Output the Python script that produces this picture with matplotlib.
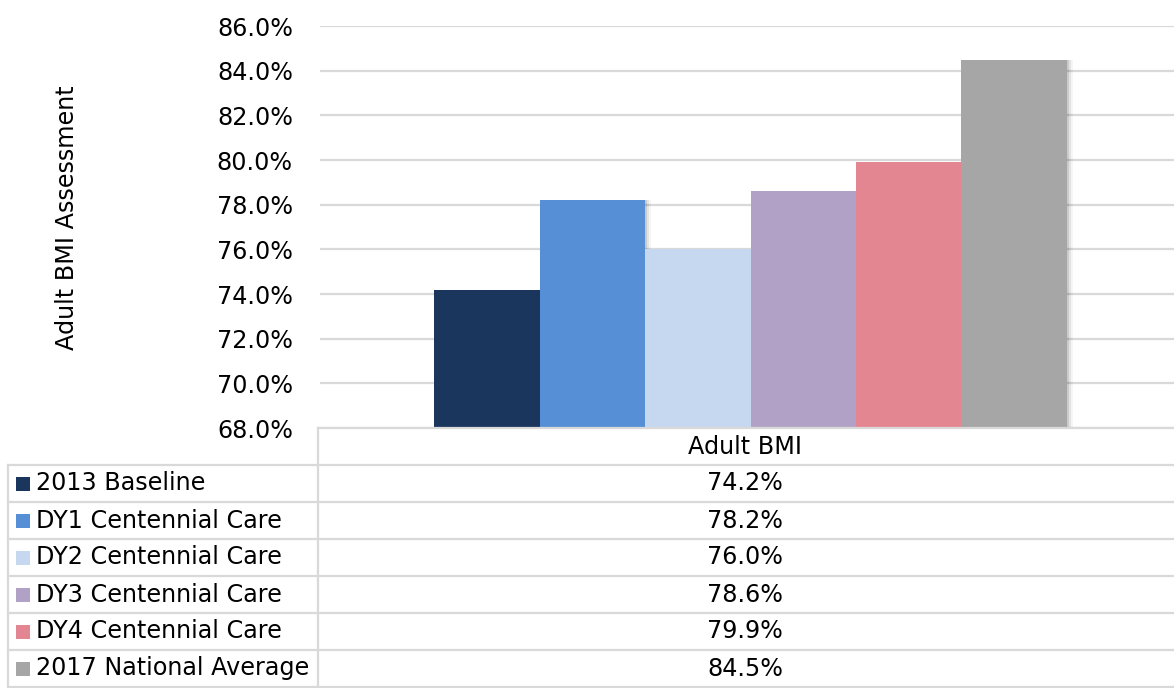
import matplotlib
matplotlib.use("Agg")
import matplotlib.pyplot as plt
from matplotlib.patches import Rectangle

# Data
category = "Adult BMI"
series = ["2013 Baseline", "DY1 Centennial Care", "DY2 Centennial Care",
          "DY3 Centennial Care", "DY4 Centennial Care", "2017 National Average"]
values = [74.2, 78.2, 76.0, 78.6, 79.9, 84.5]
colors = ["#1a365d", "#568fd6", "#c6d8ef", "#b1a1c7", "#e48692", "#a6a6a6"]
y_ticks = [68, 70, 72, 74, 76, 78, 80, 82, 84, 86]
y_label = "Adult BMI Assessment"

W, H = 1174, 688
plt.rcParams["font.family"] = ["DejaVu Sans"]
FS = 17.2
GRID = "#d9d9d9"

fig = plt.figure(figsize=(W / 100, H / 100), dpi=100)

# Plot area in pixel coordinates
px_l, px_r, px_t, px_b = 320, 1174, 26, 428
ax = fig.add_axes([px_l / W, 1 - px_b / H, (px_r - px_l) / W, (px_b - px_t) / H])
ax.set_xlim(0, 1)
ax.set_ylim(y_ticks[0], y_ticks[-1])
ax.set_yticks(y_ticks)
ax.set_yticklabels([f"{t:.1f}%" for t in y_ticks], fontsize=FS, color="#000000")
ax.tick_params(axis="y", length=0, pad=19.5)
ax.set_xticks([])
for s in ax.spines.values():
    s.set_visible(False)
ax.grid(axis="y", color=GRID, linewidth=1.6)
ax.set_axisbelow(True)

bw = 105.5 / (px_r - px_l)
center = (750.5 - px_l) / (px_r - px_l)
for i, (v, c) in enumerate(zip(values, colors)):
    x = center + (i - 2.5) * bw
    # soft shadow
    for k, a in enumerate([0.10, 0.07, 0.04]):
        off = (k + 1) * 2.0 / (px_r - px_l)
        ax.bar(x + off, v - y_ticks[0], bottom=y_ticks[0], width=bw,
               color="#000000", alpha=a, linewidth=0, zorder=2)
    ax.bar(x, v - y_ticks[0], bottom=y_ticks[0], width=bw, color=c,
           linewidth=0, zorder=3)

fig.text(67 / W, 1 - 218 / H, y_label, rotation=90, ha="center", va="center",
         fontsize=FS)

# Data table drawn on an overlay in pixel units
ov = fig.add_axes([0, 0, 1, 1], zorder=5)
ov.set_xlim(0, W)
ov.set_ylim(H, 0)
ov.axis("off")

col_x = 318
row_h = 37
head_top = 428
rows_top = 465
lw = 1.6
ov.plot([col_x, W], [head_top, head_top], color=GRID, lw=lw)
ov.plot([col_x, col_x], [head_top, H], color=GRID, lw=lw)
ov.plot([8, 8], [rows_top, H], color=GRID, lw=lw)
for r in range(len(series) + 1):
    y = rows_top + r * row_h
    if y > H - 1:
        y = H - 1
    ov.plot([8, W], [y, y], color=GRID, lw=lw)

val_cx = (col_x + W) / 2 - 1
ov.text(val_cx, (head_top + rows_top) / 2, category, ha="center", va="center",
        fontsize=FS)
for r, (name, v, c) in enumerate(zip(series, values, colors)):
    cy = rows_top + r * row_h + row_h / 2
    ov.add_patch(Rectangle((16, cy - 7), 14, 14, color=c, lw=0))
    ov.text(36, cy, name, ha="left", va="center", fontsize=FS)
    ov.text(val_cx, cy, f"{v:.1f}%", ha="center", va="center", fontsize=FS)

fig.savefig("out.png", dpi=100, facecolor="white")
